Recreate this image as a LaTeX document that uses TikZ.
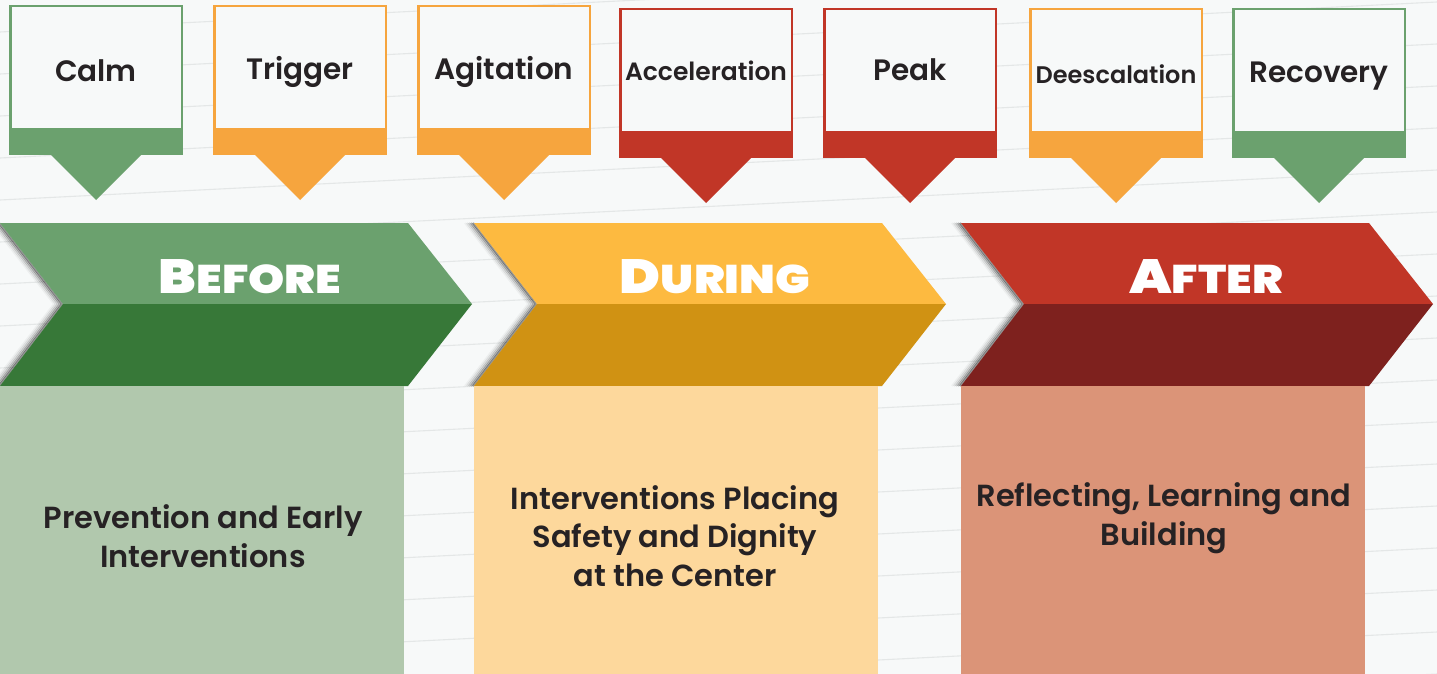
\documentclass[tikz,border=0pt]{standalone}
\usepackage{fontspec}
\setmainfont{Poppins}
\newfontfamily\tagfont{Poppins SemiBold}
\newfontfamily\bodyfont{Poppins SemiBold}
\newfontfamily\headfont{Poppins Black}[FakeStretch=1.15]
\usetikzlibrary{positioning, calc}
\definecolor{paper}{RGB}{247,249,249}
\definecolor{rule}{RGB}{228,231,231}
\definecolor{ink}{RGB}{38,34,36}
\definecolor{leaf}{RGB}{107,161,110}
\definecolor{leafdark}{RGB}{55,120,56}
\definecolor{leafpale}{RGB}{177,200,173}
\definecolor{amber}{RGB}{246,165,62}
\definecolor{sun}{RGB}{253,186,64}
\definecolor{sundark}{RGB}{208,146,19}
\definecolor{sunpale}{RGB}{253,216,156}
\definecolor{brick}{RGB}{193,54,39}
\definecolor{brickdark}{RGB}{126,33,30}
\definecolor{brickpale}{RGB}{219,148,120}
% big first letter, smaller capitals after it
\newcommand{\phasename}[2]{{\fontsize{48}{48}\selectfont #1}{\fontsize{40}{40}\selectfont #2}}

\begin{document}
\begin{tikzpicture}[x=1pt, y=-1pt,
    tag/.style={font=\tagfont, text=ink, inner sep=0pt, anchor=base},
    phase/.style={font=\headfont, text=white, inner sep=0pt, anchor=base},
    blurb/.style={font=\bodyfont\fontsize{30.5}{38.5}\selectfont, text=ink, align=center, inner sep=0pt}]
  \fill[paper] (0,0) rectangle (1437,674);
  \useasboundingbox (0,0) rectangle (1437,674);
  % faint ruled lines behind everything
  \foreach \k in {0,...,18}
    \draw[rule, line width=1.1] (0,{-10+\k*42}) -- (1437,{-82+\k*42});

  % phase tags along the top
  \foreach \nm/\x/\t/\c/\s/\b/\lbl in {calm/9/5/leaf/29.5/82/Calm, trigger/213/5/amber/29.5/80/Trigger,
      agitation/417/5/amber/29.5/80/Agitation, accel/619/8/brick/25/81/Acceleration,
      peak/823/8/brick/29.5/81/Peak, deesc/1029/8/amber/24/84/Deescalation,
      recovery/1232/8/leaf/29.5/83/Recovery}{
    \draw[\c, line width=2.5, fill=paper] (\x+1.25,\t+1.25) rectangle (\x+172.75,\t+124);
    \fill[\c] (\x,\t+123) rectangle (\x+174,\t+150);
    \fill[\c] (\x+42,\t+150) -- (\x+87,\t+195) -- (\x+132,\t+150) -- cycle;
    \node[tag, font=\tagfont\fontsize{\s}{\s}\selectfont] (\nm) at (\x+87,\b) {\lbl};
  }

  % three chevrons with their boxes
  \foreach \nm/\x/\up/\lo/\pale/\hx/\ha/\hb in {before/0/leaf/leafdark/leafpale/250/B/EFORE,
      during/474/sun/sundark/sunpale/715/D/URING,
      after/961/brick/brickdark/brickpale/1206/A/FTER}{
    \foreach \d/\o in {1/.40,3/.28,5/.17,7/.09,9/.04}
      \draw[black, opacity=\o, line width=2] (\x-\d,223) -- (\x+63-\d,304) -- (\x-\d,386);
    \fill[\up] (\x,223) -- (\x+408,223) -- (\x+472,304) -- (\x+63,304) -- cycle;
    \fill[\lo] (\x+63,304) -- (\x+472,304) -- (\x+408,386) -- (\x,386) -- cycle;
    \fill[\pale] (\x,386) rectangle (\x+404,674);
    \node[phase] (\nm) at (\hx,293) {\phasename{\ha}{\hb}};
  }

  \node[blurb] (beforetext) at (203,536) {Prevention and Early\\Interventions};
  \node[blurb] (duringtext) at (675,536) {Interventions Placing\\Safety and Dignity\\at the Center};
  \node[blurb] (aftertext) at (1164,518) {Reflecting, Learning and\\Building};
\end{tikzpicture}
\end{document}
